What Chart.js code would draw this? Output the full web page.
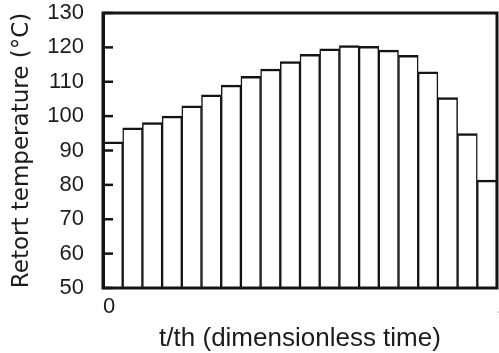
<!DOCTYPE html>
<html>
<head>
<meta charset="utf-8">
<script src="https://cdn.jsdelivr.net/npm/chart.js@4/dist/chart.umd.min.js"></script>
<style>
  html, body { margin: 0; padding: 0; background: #ffffff; }
  #wrap { width: 499px; height: 353px; }
</style>
</head>
<body>
<div id="wrap"><canvas id="c" width="499" height="353"></canvas></div>
<script>
// Time intervals (midpoint of each of the 20 equal steps of t/th)
const categories = ['0.025','0.075','0.125','0.175','0.225','0.275','0.325','0.375','0.425','0.475',
                    '0.525','0.575','0.625','0.675','0.725','0.775','0.825','0.875','0.925','0.975'];
// Retort temperature (°C) in each step
const retortTemp = [92.5, 96.6, 98.1, 100.0, 103.0, 106.2, 109.0, 111.6, 113.7, 115.9,
                    118.0, 119.6, 120.5, 120.3, 119.2, 117.7, 112.9, 105.4, 94.9, 81.4];
const yRange = [50, 130];
const yStep = 10;
const xRange = [0, 1];
const xTickLabels = ['0', '1'];

const INK = '#141414';
const TEXT = '#1c1c1c';

// Box frame around the plot area plus inward tick marks on the left axis
const framePlugin = {
  id: 'frame',
  afterDraw(chart) {
    const ctx = chart.ctx;
    const a = chart.chartArea;
    const ys = chart.scales.y;
    ctx.save();
    ctx.strokeStyle = INK;
    ctx.lineWidth = 3;
    ctx.strokeRect(a.left, a.top, a.right - a.left, a.bottom - a.top);
    ctx.fillStyle = INK;
    ys.ticks.forEach(t => {
      const py = ys.getPixelForValue(t.value);
      ctx.fillRect(a.left, py - 1.25, 10, 2.5);
    });
    ctx.restore();
  }
};

new Chart(document.getElementById('c'), {
  type: 'bar',
  data: {
    labels: categories,
    datasets: [{
      data: retortTemp,
      backgroundColor: '#ffffff',
      borderColor: INK,
      borderWidth: { top: 2.5, left: 1.5, right: 1.5, bottom: 2.5 },
      borderSkipped: false,
      categoryPercentage: 1.0,
      barPercentage: 1.0,
      xAxisID: 'x',
      yAxisID: 'y'
    }]
  },
  options: {
    responsive: false,
    animation: false,
    devicePixelRatio: 1,
    layout: { padding: { top: 13, right: 2, bottom: 0, left: 0 } },
    plugins: { legend: { display: false }, tooltip: { enabled: false } },
    scales: {
      x: { type: 'category', display: false },
      xt: {
        type: 'linear',
        position: 'bottom',
        offset: false,
        min: xRange[0],
        max: xRange[1],
        ticks: {
          stepSize: 1,
          padding: 6,
          labelOffset: 6,
          maxRotation: 0,
          autoSkip: false,
          color: TEXT,
          font: { family: 'Liberation Sans', size: 22 },
          callback: (v) => xTickLabels[v - xRange[0]] ?? ''
        },
        grid: { display: false, drawTicks: false, offset: false },
        border: { display: false },
        title: {
          display: true,
          text: 't/th (dimensionless time)',
          color: TEXT,
          font: { family: 'Liberation Sans', size: 26, lineHeight: 1.1 },
          padding: { top: 0, bottom: 0 }
        },
        afterFit(s) { s.height = 65; s.paddingLeft = 0; s.paddingRight = 0; }
      },
      y: {
        min: yRange[0],
        max: yRange[1],
        ticks: {
          stepSize: yStep,
          padding: 19,
          color: TEXT,
          font: { family: 'Liberation Sans', size: 22 }
        },
        grid: { display: true, drawOnChartArea: false, drawTicks: false, tickLength: 0 },
        border: { z: 1, display: true, color: INK, width: 3 },
        title: {
          display: true,
          text: 'Retort temperature (°C)',
          color: TEXT,
          font: { family: 'DejaVu Sans', size: 23 },
          padding: { top: 8, bottom: 0 }
        },
        afterFit(s) { s.width = 103; s.paddingTop = 0; s.paddingBottom = 0; }
      }
    }
  },
  plugins: [framePlugin]
});
</script>
</body>
</html>
